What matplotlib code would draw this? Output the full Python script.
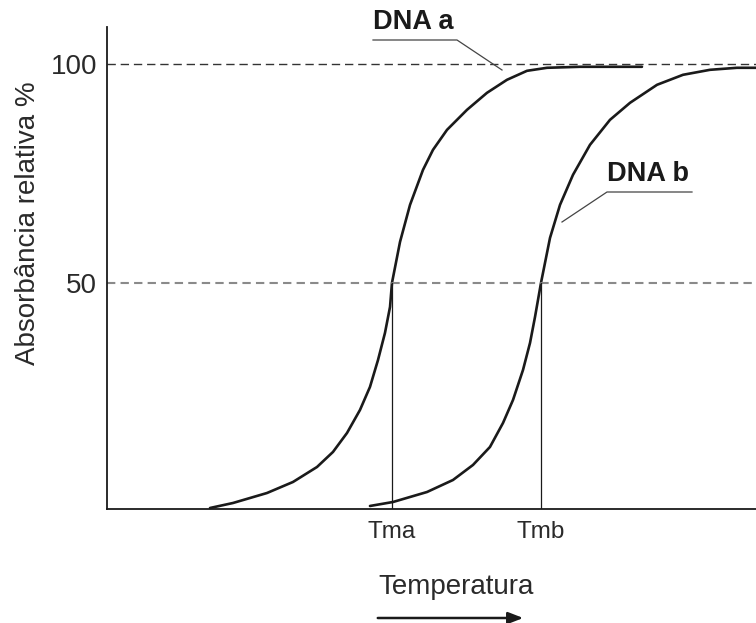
import matplotlib
matplotlib.use("Agg")
import matplotlib.pyplot as plt

plt.rcParams['font.family'] = ['Liberation Sans', 'DejaVu Sans']

# ---- data (temperature in arbitrary units, absorbance in %) ----
temp_a = [15.87, 19.41, 24.65, 28.66, 32.36, 34.82, 36.98, 38.98, 40.52, 41.76,
          42.83, 43.61, 43.91, 45.15, 46.69, 48.69, 50.23, 52.39, 55.47, 58.55,
          61.63, 64.71, 67.80, 72.88, 82.43]
abs_a = [-1.37, -0.23, 2.05, 4.57, 7.99, 11.42, 15.75, 21.00, 26.26, 32.42,
         38.58, 44.52, 50.00, 59.36, 67.81, 75.80, 80.37, 84.93, 89.50, 93.38,
         96.35, 98.40, 99.09, 99.32, 99.32]

temp_b = [40.52, 44.07, 49.31, 53.31, 56.39, 59.01, 61.02, 62.56, 64.10, 65.18,
          65.95, 66.87, 68.26, 69.80, 71.80, 74.42, 77.50, 80.59, 84.75, 88.75,
          92.91, 97.07, 100.0]
abs_b = [-0.91, 0.00, 2.28, 5.02, 8.45, 12.56, 18.04, 23.29, 30.14, 36.30,
         42.24, 50.00, 60.27, 67.81, 74.66, 81.51, 87.21, 91.10, 95.21, 97.49,
         98.63, 99.09, 99.09]

tm_values = [43.91, 66.87]
tm_labels = ["Tma", "Tmb"]
y_ticks = [50, 100]
y_ticklabels = ["50", "100"]
curve_names = ["DNA a", "DNA b"]

W, H = 756, 623
fig = plt.figure(figsize=(W / 100, H / 100), dpi=100)

def fx(px):
    return px / W

def fy(py):
    return 1 - py / H

ax = fig.add_axes([fx(107), fy(509), fx(756) - fx(107), fy(27) - fy(509)])
ax.set_xlim(0, 100)
ax.set_ylim(-1.6, 108.4)

ink = "#1a1a1a"
ax.plot(temp_a, abs_a, color=ink, lw=1.9, solid_capstyle='round',
        solid_joinstyle='round', clip_on=False)
ax.plot(temp_b, abs_b, color=ink, lw=1.9, solid_capstyle='round',
        solid_joinstyle='round', clip_on=False)

ax.axhline(100, color="#333333", lw=1.0, dashes=(6, 3.5))
ax.axhline(50, color="#8a8a8a", lw=1.5, dashes=(4, 2.5))

for tm in tm_values:
    ax.plot([tm, tm], [-1.6, 50], color=ink, lw=0.9)

for s in ['top', 'right']:
    ax.spines[s].set_visible(False)
for s in ['left', 'bottom']:
    ax.spines[s].set_color(ink)
    ax.spines[s].set_linewidth(1.3)

ax.set_yticks(y_ticks)
ax.set_yticklabels(y_ticklabels, fontsize=20, color="#2a2a2a")
ax.set_xticks(tm_values)
ax.set_xticklabels(tm_labels, fontsize=17.5, color="#2a2a2a")
ax.tick_params(axis='both', length=0)
ax.tick_params(axis='y', pad=7)
ax.tick_params(axis='x', pad=9)

fig.text(fx(28), fy(223), "Absorbância relativa %", rotation=90, fontsize=20,
         color="#2a2a2a", ha='center', va='center')
fig.text(fx(456), fy(587), "Temperatura", fontsize=20, color="#2a2a2a",
         ha='center', va='center')
fig.add_artist(matplotlib.patches.FancyArrowPatch(
    (fx(375), fy(618)), (fx(526), fy(618)), transform=fig.transFigure,
    arrowstyle='-|>,head_length=0.9,head_width=0.35', color=ink, lw=1.8,
    mutation_scale=10))

# annotations
fig.text(fx(373), fy(22), curve_names[0], fontsize=19.5, fontweight='bold',
         color=ink, ha='left', va='center')
fig.add_artist(plt.Line2D([fx(373), fx(457), fx(502)], [fy(40), fy(40), fy(70)],
                          transform=fig.transFigure, color="#444444", lw=0.9))
fig.text(fx(607), fy(174), curve_names[1], fontsize=19.5, fontweight='bold',
         color=ink, ha='left', va='center')
fig.add_artist(plt.Line2D([fx(692), fx(607), fx(562)], [fy(192), fy(192), fy(222)],
                          transform=fig.transFigure, color="#444444", lw=0.9))

fig.savefig("out.png", dpi=100, facecolor='white')
